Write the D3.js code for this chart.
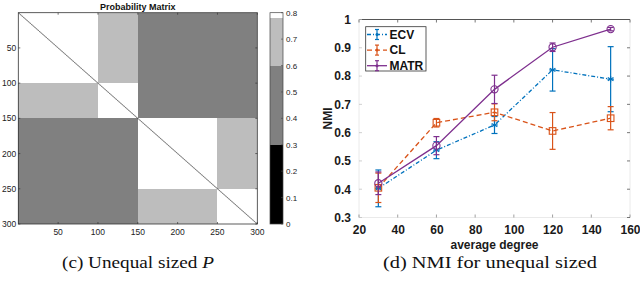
<!DOCTYPE html>
<html><head><meta charset="utf-8">
<script src="https://cdn.jsdelivr.net/npm/d3@7"></script>
<style>body{margin:0;background:#fff}svg{display:block}</style>
</head><body>
<svg id="c" width="640" height="281"></svg>
<script>
// ---- Data: probability matrix (left) ----
const blockSizes = [100, 50, 100, 50];
const blockProb = [
  [0.8, 0.7, 0.5, 0.5],
  [0.7, 0.8, 0.5, 0.5],
  [0.5, 0.5, 0.8, 0.7],
  [0.5, 0.5, 0.7, 0.8]
];
const diagValue = 0;
const matrixTicks = [50, 100, 150, 200, 250, 300];
const colorbarSteps = [0, 0.3, 0.6, 0.78, 0.8];
const colorbarColors = ["#000000", "#808080", "#bdbdbd", "#ffffff"];
const colorbarTicks = [0, 0.1, 0.2, 0.3, 0.4, 0.5, 0.6, 0.7, 0.8];

// ---- Data: NMI (right) ----
const degrees = [30, 60, 90, 120, 150];
const ecvMean = [0.403, 0.538, 0.627, 0.822, 0.789];
const ecvErr  = [0.065, 0.030, 0.030, 0.075, 0.115];
const clMean  = [0.405, 0.635, 0.672, 0.606, 0.651];
const clErr   = [0.052, 0.015, 0.030, 0.065, 0.041];
const matrMean = [0.421, 0.554, 0.753, 0.902, 0.966];
const matrErr  = [0.040, 0.032, 0.050, 0.015, 0.006];
const seriesNames = ["ECV", "CL", "MATR"];
const xTicks = [20, 40, 60, 80, 100, 120, 140, 160];
const yTicks = [0.3, 0.4, 0.5, 0.6, 0.7, 0.8, 0.9, 1];

const svg = d3.select("#c");
const sans = "Helvetica, Arial, 'Liberation Sans', sans-serif";

// ================= LEFT: matrix =================
const L = {x0: 18.3, x1: 257.3, y0: 12.7, y1: 224};
const mx = d3.scaleLinear().domain([0, 300]).range([L.x0, L.x1]);
const my = d3.scaleLinear().domain([0, 300]).range([L.y0, L.y1]);
const cscale = d3.scaleThreshold().domain(colorbarSteps.slice(1, -1)).range(colorbarColors);

const starts = blockSizes.map((s, i) => d3.sum(blockSizes.slice(0, i)));
const blocks = [];
blockSizes.forEach((si, i) => blockSizes.forEach((sj, j) => {
  blocks.push({r0: starts[i], r1: starts[i] + si, c0: starts[j], c1: starts[j] + sj, v: blockProb[i][j]});
}));
const gm = svg.append("g");
gm.selectAll("rect.blk").data(blocks).join("rect")
  .attr("x", d => mx(d.c0)).attr("y", d => my(d.r0))
  .attr("width", d => mx(d.c1) - mx(d.c0)).attr("height", d => my(d.r1) - my(d.r0))
  .attr("fill", d => cscale(d.v)).attr("shape-rendering", "crispEdges");
const N = d3.sum(blockSizes);
gm.selectAll("rect.dg").data(d3.range(N)).join("rect")
  .attr("x", d => mx(d)).attr("y", d => my(d))
  .attr("width", mx(1) - mx(0)).attr("height", my(1) - my(0))
  .attr("fill", cscale(diagValue)).attr("opacity", 0.85);

// axes for matrix
const axM = svg.append("g").attr("font-family", sans).attr("font-size", 8.5).attr("fill", "#222");
axM.append("rect").attr("x", L.x0).attr("y", L.y0).attr("width", L.x1 - L.x0).attr("height", L.y1 - L.y0)
  .attr("fill", "none").attr("stroke", "#333").attr("stroke-width", 0.8);
matrixTicks.forEach(t => {
  axM.append("text").attr("x", mx(t)).attr("y", L.y1 + 11).attr("text-anchor", "middle").text(t);
  axM.append("text").attr("x", L.x0 - 2).attr("y", my(t) + 3).attr("text-anchor", "end").text(t);
  axM.append("line").attr("x1", mx(t)).attr("x2", mx(t)).attr("y1", L.y1).attr("y2", L.y1 - 2).attr("stroke", "#333").attr("stroke-width", 0.7);
  axM.append("line").attr("x1", mx(t)).attr("x2", mx(t)).attr("y1", L.y0).attr("y2", L.y0 + 2).attr("stroke", "#333").attr("stroke-width", 0.7);
  axM.append("line").attr("x1", L.x0).attr("x2", L.x0 + 2).attr("y1", my(t)).attr("y2", my(t)).attr("stroke", "#333").attr("stroke-width", 0.7);
  axM.append("line").attr("x1", L.x1).attr("x2", L.x1 - 2).attr("y1", my(t)).attr("y2", my(t)).attr("stroke", "#333").attr("stroke-width", 0.7);
});
svg.append("text").attr("x", (L.x0 + L.x1) / 2).attr("y", 9.5).attr("text-anchor", "middle")
  .attr("font-family", sans).attr("font-weight", "bold").attr("font-size", 9).attr("fill", "#111")
  .text("Probability Matrix");

// colorbar
const CB = {x0: 270, x1: 283};
const cy = d3.scaleLinear().domain([0, 0.8]).range([L.y1, L.y0]);
const segs = colorbarColors.map((c, i) => ({lo: colorbarSteps[i], hi: colorbarSteps[i + 1], c}));
svg.append("g").selectAll("rect").data(segs).join("rect")
  .attr("x", CB.x0).attr("width", CB.x1 - CB.x0)
  .attr("y", d => cy(d.hi)).attr("height", d => cy(d.lo) - cy(d.hi))
  .attr("fill", d => d.c).attr("shape-rendering", "crispEdges");
svg.append("rect").attr("x", CB.x0).attr("y", L.y0).attr("width", CB.x1 - CB.x0).attr("height", L.y1 - L.y0)
  .attr("fill", "none").attr("stroke", "#444").attr("stroke-width", 0.7);
const cbAx = svg.append("g").attr("font-family", sans).attr("font-size", 8).attr("fill", "#222");
colorbarTicks.forEach(t => {
  cbAx.append("text").attr("x", CB.x1 + 3).attr("y", cy(t) + 3).text(t === 0 ? "0" : t.toFixed(1));
  cbAx.append("line").attr("x1", CB.x1).attr("x2", CB.x1 - 2).attr("y1", cy(t)).attr("y2", cy(t)).attr("stroke", "#444").attr("stroke-width", 0.6);
});

// ================= RIGHT: NMI =================
const R = {x0: 359, x1: 630, y0: 19.5, y1: 217.5};
const x = d3.scaleLinear().domain([20, 160]).range([R.x0, R.x1]);
const y = d3.scaleLinear().domain([0.3, 1]).range([R.y1, R.y0]);

const gr = svg.append("g");
gr.append("line").attr("x1", R.x0).attr("x2", R.x1).attr("y1", R.y0).attr("y2", R.y0).attr("stroke", "#555").attr("stroke-width", 1);
gr.append("line").attr("x1", R.x0).attr("x2", R.x0).attr("y1", R.y0).attr("y2", R.y1).attr("stroke", "#e4e4e4").attr("stroke-width", 0.8);
gr.append("line").attr("x1", R.x1).attr("x2", R.x1).attr("y1", R.y0).attr("y2", R.y1).attr("stroke", "#e4e4e4").attr("stroke-width", 0.8);
gr.append("line").attr("x1", R.x0).attr("x2", R.x1).attr("y1", R.y1).attr("y2", R.y1).attr("stroke", "#e4e4e4").attr("stroke-width", 0.8);

const xAxis = gr.append("g").attr("transform", `translate(0,${R.y1})`)
  .call(d3.axisBottom(x).tickValues(xTicks).tickSize(0).tickPadding(8));
const yAxis = gr.append("g").attr("transform", `translate(${R.x0},0)`)
  .call(d3.axisLeft(y).tickValues(yTicks).tickSize(0).tickPadding(8).tickFormat(d => d === 1 ? "1" : d3.format(".1f")(d)));
[xAxis, yAxis].forEach(a => {
  a.select(".domain").remove();
  a.selectAll("text").attr("font-family", sans).attr("font-weight", "bold").attr("font-size", 12).attr("fill", "#1a1a1a");
});
xTicks.forEach(t => {
  gr.append("line").attr("x1", x(t)).attr("x2", x(t)).attr("y1", R.y1).attr("y2", R.y1 - 3).attr("stroke", "#777").attr("stroke-width", 0.7);
  gr.append("line").attr("x1", x(t)).attr("x2", x(t)).attr("y1", R.y0).attr("y2", R.y0 + 3).attr("stroke", "#555").attr("stroke-width", 0.8);
});
yTicks.forEach(t => {
  gr.append("line").attr("x1", R.x1).attr("x2", R.x1 - 3).attr("y1", y(t)).attr("y2", y(t)).attr("stroke", "#555").attr("stroke-width", 0.8);
  gr.append("line").attr("x1", R.x0).attr("x2", R.x0 + 3).attr("y1", y(t)).attr("y2", y(t)).attr("stroke", "#bbb").attr("stroke-width", 0.7);
});
gr.append("text").attr("transform", `translate(${R.x0 - 27},${(R.y0 + R.y1) / 2}) rotate(-90)`)
  .attr("text-anchor", "middle").attr("font-family", sans).attr("font-weight", "bold").attr("font-size", 12).attr("fill", "#1a1a1a").text("NMI");
gr.append("text").attr("x", (R.x0 + R.x1) / 2).attr("y", 249).attr("text-anchor", "middle")
  .attr("font-family", sans).attr("font-weight", "bold").attr("font-size", 12).attr("fill", "#1a1a1a").text("average degree");

const series = [
  {name: seriesNames[0], mean: ecvMean, err: ecvErr, color: "#0072BD", dash: "4,2,1,2", marker: "star"},
  {name: seriesNames[1], mean: clMean, err: clErr, color: "#D95319", dash: "5,3", marker: "square"},
  {name: seriesNames[2], mean: matrMean, err: matrErr, color: "#7E2F8E", dash: null, marker: "circle"}
];
const line = d3.line().x(d => x(d.x)).y(d => y(d.y));

function drawMarker(g, type, cx, cyy, color, s) {
  if (type === "circle") {
    g.append("circle").attr("cx", cx).attr("cy", cyy).attr("r", 3.6 * s).attr("fill", "none").attr("stroke", color).attr("stroke-width", 1.1);
  } else if (type === "square") {
    g.append("rect").attr("x", cx - 3.3 * s).attr("y", cyy - 3.3 * s).attr("width", 6.6 * s).attr("height", 6.6 * s).attr("fill", "none").attr("stroke", color).attr("stroke-width", 1.1);
  } else {
    const r = 3.3 * s;
    [0, 60, 120].forEach(a => {
      const rad = a * Math.PI / 180;
      g.append("line").attr("x1", cx - r * Math.sin(rad)).attr("y1", cyy - r * Math.cos(rad))
        .attr("x2", cx + r * Math.sin(rad)).attr("y2", cyy + r * Math.cos(rad)).attr("stroke", color).attr("stroke-width", 1.1);
    });
    g.append("line").attr("x1", cx - r).attr("x2", cx + r).attr("y1", cyy).attr("y2", cyy).attr("stroke", color).attr("stroke-width", 1.1);
  }
}

series.forEach(s => {
  const g = gr.append("g");
  const pts = degrees.map((d, i) => ({x: d, y: s.mean[i], e: s.err[i]}));
  g.append("path").datum(pts).attr("d", line).attr("fill", "none").attr("stroke", s.color)
    .attr("stroke-width", 1.3).attr("stroke-dasharray", s.dash);
  pts.forEach(p => {
    const cx = x(p.x);
    g.append("line").attr("x1", cx).attr("x2", cx).attr("y1", y(p.y - p.e)).attr("y2", y(p.y + p.e)).attr("stroke", s.color).attr("stroke-width", 1.2);
    [p.y - p.e, p.y + p.e].forEach(v => g.append("line").attr("x1", cx - 3).attr("x2", cx + 3).attr("y1", y(v)).attr("y2", y(v)).attr("stroke", s.color).attr("stroke-width", 1.2));
    drawMarker(g, s.marker, cx, y(p.y), s.color, 1);
  });
});

// legend
const lg = gr.append("g");
lg.append("rect").attr("x", 365.7).attr("y", 26.7).attr("width", 60.3).attr("height", 44.3)
  .attr("fill", "#fff").attr("stroke", "#333").attr("stroke-width", 0.8);
series.forEach((s, i) => {
  const yy = 34.5 + i * 15.6;
  lg.append("line").attr("x1", 367).attr("x2", 387).attr("y1", yy).attr("y2", yy).attr("stroke", s.color).attr("stroke-width", 1.3).attr("stroke-dasharray", s.dash);
  lg.append("line").attr("x1", 377).attr("x2", 377).attr("y1", yy - 5).attr("y2", yy + 5).attr("stroke", s.color).attr("stroke-width", 1.2);
  [yy - 5, yy + 5].forEach(v => lg.append("line").attr("x1", 375).attr("x2", 379).attr("y1", v).attr("y2", v).attr("stroke", s.color).attr("stroke-width", 1.2));
  lg.append("circle").attr("cx", 377).attr("cy", yy).attr("r", 1.5).attr("fill", s.color);
  lg.append("text").attr("x", 389.5).attr("y", yy + 4.3).attr("font-family", sans).attr("font-weight", "bold").attr("font-size", 12).attr("fill", "#111").text(s.name);
});

// captions
const cap1 = svg.append("text").attr("x", 138).attr("y", 268).attr("text-anchor", "middle")
  .attr("font-family", "'Liberation Serif', serif").attr("font-size", 17).attr("fill", "#111")
  .attr("textLength", 152).attr("lengthAdjust", "spacingAndGlyphs");
cap1.append("tspan").text("(c) Unequal sized ");
cap1.append("tspan").attr("font-style", "italic").text("P");
svg.append("text").attr("x", 490).attr("y", 268).attr("text-anchor", "middle")
  .attr("font-family", "'Liberation Serif', serif").attr("font-size", 17).attr("fill", "#111")
  .attr("textLength", 214).attr("lengthAdjust", "spacingAndGlyphs")
  .text("(d) NMI for unequal sized");
</script>
</body></html>
